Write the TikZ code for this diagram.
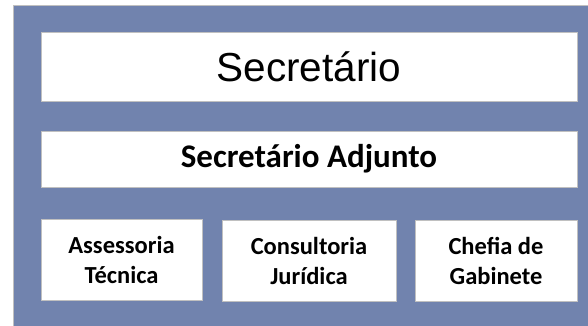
\documentclass[tikz,border=0pt]{standalone}
\usepackage{fontspec}
\setmainfont{Liberation Sans}
\newfontfamily\calibri{Carlito}
\usepackage{tikz}
\definecolor{orgblue}{RGB}{113,131,174}
\definecolor{edgegray}{RGB}{192,192,192}
\tikzset{
  orgbox/.style={draw=edgegray, fill=white, line width=1pt, inner sep=0pt, align=center},
  smalltext/.style={font=\calibri\bfseries\fontsize{24.5}{30}\selectfont}
}

\begin{document}
\begin{tikzpicture}[x=1pt,y=-1pt]
      \useasboundingbox (0,0) rectangle (588,325);
      % Background panel
      \draw[draw=edgegray, fill=orgblue, line width=1pt] (13,5) rectangle (590,327);
      %
      % Top levels:
      \node[orgbox, minimum width=536pt, minimum height=69pt, font=\fontsize{40.5}{42}\selectfont] (sec) at (309,66.5) {Secret\'ario};
      \node[orgbox, minimum width=536pt, minimum height=56pt, font=\calibri\bfseries\fontsize{33}{35}\selectfont] (adj) at (309,159) {Secret\'ario Adjunto};
      %
      % Bottom row:
      \node[orgbox, smalltext, minimum width=161pt, minimum height=81pt] (asst) at (121.5,260) {Assessoria\\T\'ecnica};
      \node[orgbox, smalltext, minimum width=174pt, minimum height=81pt] (cons) at (309,261) {Consultoria\\Jur\'idica};
      \node[orgbox, smalltext, minimum width=162pt, minimum height=81pt] (chef) at (496,261) {Chefia de\\Gabinete};
\end{tikzpicture}
\end{document}
